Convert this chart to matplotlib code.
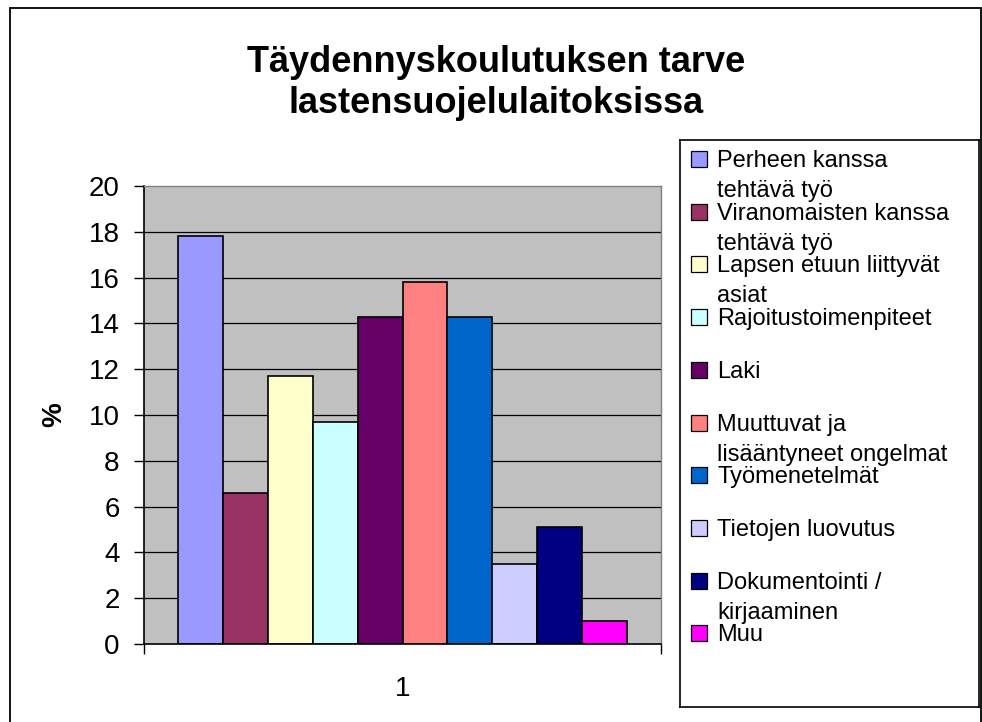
import matplotlib
matplotlib.use("Agg")
import matplotlib.pyplot as plt
from matplotlib.patches import Rectangle

plt.rcParams["font.family"] = ["Liberation Sans", "DejaVu Sans"]

# data
labels = [
    "Perheen kanssa\ntehtävä työ",
    "Viranomaisten kanssa\ntehtävä työ",
    "Lapsen etuun liittyvät\nasiat",
    "Rajoitustoimenpiteet",
    "Laki",
    "Muuttuvat ja\nlisääntyneet ongelmat",
    "Työmenetelmät",
    "Tietojen luovutus",
    "Dokumentointi /\nkirjaaminen",
    "Muu",
]
values = [17.8, 6.6, 11.7, 9.7, 14.3, 15.8, 14.3, 3.5, 5.1, 1.0]
colors = ["#9999FF", "#993366", "#FFFFCC", "#CCFFFF", "#660066",
          "#FF8080", "#0066CC", "#CCCCFF", "#000080", "#FF00FF"]
yticks = list(range(0, 21, 2))
category = "1"

W, H = 982, 722
fig = plt.figure(figsize=(W / 100, H / 100), dpi=100)

# outer chart border
fig.patches.append(Rectangle((10 / W, -0.02), (971 / W), 1 - 8 / H + 0.02,
                             transform=fig.transFigure, fill=False,
                             edgecolor="black", linewidth=1.3))

ax = fig.add_axes([144 / W, 1 - 644 / H, (661 - 144) / W, (644 - 186) / H])
ax.set_facecolor("#C0C0C0")

n = len(values)
w = 1 / (n + 1.5)
xs = [1 + (i - (n - 1) / 2) * w for i in range(n)]

ax.hlines(yticks[1:-1], 0.5, 1.5, colors="black", linewidth=0.9, zorder=1)
ax.bar(xs, values, width=w, color=colors, edgecolor="black",
       linewidth=1.2, zorder=2)

ax.set_xlim(0.5, 1.5)
ax.set_ylim(0, 20)
ax.set_yticks(yticks)
ax.tick_params(axis="y", direction="out", length=7.5, width=1,
               labelsize=20, pad=10)
ax.set_xticks([1])
ax.set_xticklabels([category])
ax.set_xticks([0.5, 1.5], minor=True)
ax.tick_params(axis="x", which="major", length=0, labelsize=20, pad=23)
ax.tick_params(axis="x", which="minor", direction="out", length=7.5, width=1)

for s in ["top", "right"]:
    ax.spines[s].set_color("#808080")
    ax.spines[s].set_linewidth(1)
ax.spines["left"].set_linewidth(1.2)
ax.spines["bottom"].set_linewidth(1.2)

ax.set_ylabel("%", fontsize=20, fontweight="bold")
ax.yaxis.set_label_coords(-0.148, 0.5)

fig.text(0.505, 1 - 83 / H,
         "Täydennyskoulutuksen tarve\nlastensuojelulaitoksissa",
         ha="center", va="center", fontsize=26, fontweight="bold",
         linespacing=1.2)

# legend box, laid out like the Excel one
lax = fig.add_axes([680 / W, 1 - 707 / H, (979 - 680) / W, (707 - 140) / H])
lax.set_xlim(680, 979)
lax.set_ylim(707, 140)
lax.set_xticks([])
lax.set_yticks([])
for s in lax.spines.values():
    s.set_linewidth(1.2)

for i, (lab, col) in enumerate(zip(labels, colors)):
    cy = 159 + i * 52.7
    lax.add_patch(Rectangle((691, cy - 8), 16, 16, facecolor=col,
                            edgecolor="black", linewidth=0.9))
    for j, line in enumerate(lab.split("\n")):
        lax.text(717, cy + 8 + j * 30, line, fontsize=17, va="baseline",
                 ha="left")

fig.savefig("out.png", dpi=100)
